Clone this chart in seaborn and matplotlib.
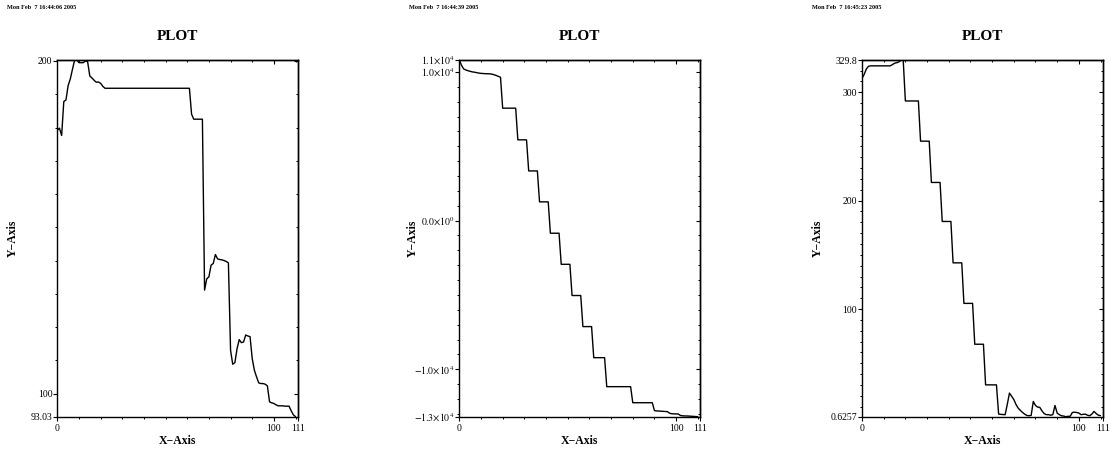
import matplotlib
matplotlib.use("Agg")
import matplotlib.pyplot as plt
import numpy as np
import pandas as pd
import seaborn as sns

# ---------------- data ----------------
x_values = list(range(111))

series_a = [
    179.2, 179.8, 177.6, 187.8, 188.3, 192.6, 194.6, 197.5, 200.3, 200.3,
    199.5, 199.5, 199.5, 200.0, 199.8, 195.5, 194.9, 194.2, 193.6, 193.7,
    193.3, 192.4, 191.8, 191.8, 191.8, 191.8, 191.8, 191.8, 191.8, 191.8,
    191.8, 191.8, 191.8, 191.8, 191.8, 191.8, 191.8, 191.8, 191.8, 191.8,
    191.8, 191.8, 191.8, 191.8, 191.8, 191.8, 191.8, 191.8, 191.8, 191.8,
    191.8, 191.8, 191.8, 191.8, 191.8, 191.8, 191.8, 191.8, 191.8, 191.8,
    191.8, 191.8, 184.0, 182.5, 182.5, 182.5, 182.5, 182.5, 131.1, 134.5,
    135.1, 138.6, 139.1, 141.8, 140.5, 140.3, 140.2, 140.0, 139.7, 139.3,
    113.0, 108.8, 109.3, 113.5, 116.2, 115.3, 115.5, 117.6, 117.3, 117.1,
    110.5, 107.0, 105.0, 103.2, 103.0, 103.0, 102.8, 102.3, 97.5, 97.2,
    97.0, 96.6, 96.3, 96.3, 96.3, 96.2, 96.2, 96.2, 94.8, 93.6,
    93.03,
]

series_b = [
    10800, 10450, 10200, 10130, 10080, 10040, 10000, 9980, 9950, 9920,
    9900, 9890, 9880, 9875, 9870, 9850, 9810, 9760, 9700, 9640,
    7560, 7560, 7560, 7560, 7560, 7560, 7560, 5430, 5430, 5430,
    5430, 5430, 3340, 3340, 3340, 3340, 3340, 1260, 1260, 1260,
    1260, 1260, -850, -850, -850, -850, -850, -2940, -2940, -2940,
    -2940, -2940, -5040, -5040, -5040, -5040, -5040, -7130, -7130, -7130,
    -7130, -7130, -9220, -9220, -9220, -9220, -9220, -9220, -11170, -11170,
    -11170, -11170, -11170, -11170, -11170, -11170, -11170, -11170, -11170, -11170,
    -12250, -12250, -12250, -12250, -12250, -12250, -12250, -12250, -12250, -12250,
    -12780, -12800, -12810, -12820, -12830, -12840, -12850, -12960, -12990, -13000,
    -13005, -13010, -13110, -13130, -13140, -13140, -13150, -13160, -13170, -13180,
    -13190,
]

series_c = [
    312.8, 316.5, 321.5, 324.0, 324.4, 324.4, 324.4, 324.4, 324.4, 324.4,
    324.4, 324.4, 324.4, 324.4, 325.5, 326.8, 327.3, 328.0, 329.6, 329.8,
    292.0, 292.0, 292.0, 292.0, 292.0, 292.0, 292.0, 254.9, 254.9, 254.9,
    254.9, 254.9, 216.8, 216.8, 216.8, 216.8, 216.8, 180.8, 180.8, 180.8,
    180.8, 180.8, 142.6, 142.6, 142.6, 142.6, 142.6, 105.2, 105.2, 105.2,
    105.2, 105.2, 67.5, 67.5, 67.5, 67.5, 67.5, 30.0, 30.0, 30.0,
    30.0, 30.0, 30.0, 3.1, 2.8, 2.6, 2.5, 12.0, 22.4, 19.5,
    16.5, 12.0, 8.6, 6.5, 4.6, 3.0, 1.8, 1.5, 1.8, 14.7,
    11.0, 9.5, 9.2, 6.0, 3.5, 2.5, 2.5, 2.0, 2.5, 11.0,
    4.0, 2.5, 1.5, 1.2, 0.6257, 1.0, 1.0, 4.5, 4.8, 4.5,
    4.0, 2.5, 2.8, 3.0, 2.0, 1.5, 3.0, 5.5, 3.5, 2.0,
    1.6,
]

timestamps = ["Mon Feb  7 16:44:06 2005", "Mon Feb  7 16:44:39 2005",
              "Mon Feb  7 16:45:23 2005"]
plot_title = "PLOT"
x_label = "X\u2212Axis"
y_label = "Y\u2212Axis"

x_limits = (0, 111)
x_tick_values = [0, 100, 111]
x_tick_labels = ["0", "100", "111"]

y_limits_a = (93.03, 200.3)
y_tick_values_a = [93.03, 100, 200]
y_tick_labels_a = ["93.03", "100", "200"]

y_limits_b = (-13190, 10800)
y_tick_values_b = [-13190, -10000, 0, 10000, 10800]
y_tick_labels_b = [r"$-1.3{\times}10^{4}$", r"$-1.0{\times}10^{4}$",
                   r"$0.0{\times}10^{0}$", r"$1.0{\times}10^{4}$",
                   r"$1.1{\times}10^{4}$"]

y_limits_c = (0.6257, 329.8)
y_tick_values_c = [0.6257, 100, 200, 300, 329.8]
y_tick_labels_c = ["0.6257", "100", "200", "300", "329.8"]

# ---------------- style ----------------
sns.set_style("ticks")
plt.rcParams["font.family"] = ["Liberation Serif", "DejaVu Serif"]
plt.rcParams["mathtext.fontset"] = "stix"
plt.rcParams["text.color"] = "black"
plt.rcParams["axes.labelcolor"] = "black"
plt.rcParams["xtick.color"] = "black"
plt.rcParams["ytick.color"] = "black"
plt.rcParams["axes.edgecolor"] = "black"

W, H = 1111, 451
fig = plt.figure(figsize=(W / 100, H / 100), dpi=100)
fig.patch.set_facecolor("white")

ax_bottom_px, ax_height_px = 34.3, 356.7
panel_geo = [(57.3, 240.4), (459.3, 240.7), (862.0, 240.7)]
ylabel_offsets = [-44.3, -46.6, -43.7]

panels = [
    (series_a, y_limits_a, y_tick_values_a, y_tick_labels_a, 10),
    (series_b, y_limits_b, y_tick_values_b, y_tick_labels_b, 1000),
    (series_c, y_limits_c, y_tick_values_c, y_tick_labels_c, 10),
]

for i, (vals, ylim, yt, ytl, minor_step) in enumerate(panels):
    left_px, width_px = panel_geo[i]
    ax = fig.add_axes([left_px / W, ax_bottom_px / H, width_px / W, ax_height_px / H])
    ax.set_facecolor("white")
    df = pd.DataFrame({"x": x_values, "y": vals})
    sns.lineplot(data=df, x="x", y="y", ax=ax, color="black", linewidth=1.0,
                 estimator=None, sort=False)
    ax.set_xlim(*x_limits)
    ax.set_ylim(*ylim)
    ax.set_xlabel("")
    ax.set_ylabel("")

    # ticks
    ax.set_xticks(x_tick_values)
    ax.set_xticklabels(x_tick_labels)
    xminor = [v for v in range(10, 111, 10) if v not in x_tick_values]
    ax.set_xticks(xminor, minor=True)
    ax.set_yticks(yt)
    ax.set_yticklabels(ytl)
    lo = int(np.ceil(ylim[0] / minor_step)) * minor_step
    yminor = [v for v in np.arange(lo, ylim[1], minor_step)]
    ax.set_yticks(yminor, minor=True)
    ax.tick_params(axis="both", which="major", direction="out", length=2.6,
                   width=0.8, color="black", labelsize=7, labelcolor="black")
    ax.tick_params(axis="y", which="major", pad=0.8)
    ax.tick_params(axis="x", which="major", pad=3.0)
    ax.tick_params(axis="both", which="minor", direction="out", length=1.6,
                   width=0.7, color="black")
    ax.tick_params(top=False, right=False, which="both")

    for s in ax.spines.values():
        s.set_visible(True)
        s.set_linewidth(1.0)
        s.set_color("black")

    # mirrored inward ticks on right and top
    secy = ax.secondary_yaxis("right")
    secy.set_yticks([v for v in yt if ylim[0] < v < ylim[1]])
    secy.set_yticks(yminor, minor=True)
    secy.tick_params(which="major", direction="in", length=2.6, width=0.8,
                     color="black", labelright=False, labelleft=False)
    secy.tick_params(which="minor", direction="in", length=1.6, width=0.7,
                     color="black")
    secy.spines["right"].set_linewidth(1.0)
    secy.spines["right"].set_color("black")

    secx = ax.secondary_xaxis("top")
    secx.set_xticks([v for v in x_tick_values if x_limits[0] < v < x_limits[1]])
    secx.set_xticks(xminor, minor=True)
    secx.tick_params(which="major", direction="in", length=2.6, width=0.8,
                     color="black", labeltop=False, labelbottom=False)
    secx.tick_params(which="minor", direction="in", length=1.6, width=0.7,
                     color="black")
    secx.spines["top"].set_linewidth(1.0)
    secx.spines["top"].set_color("black")

    # texts
    ax.text(0.5, 1 + 20 / ax_height_px, plot_title, transform=ax.transAxes,
            ha="center", va="baseline", fontsize=11, fontweight="bold",
            color="black")
    ax.text(0.5, -24 / ax_height_px, x_label, transform=ax.transAxes,
            ha="center", va="center", fontsize=8.5, fontweight="bold",
            color="black")
    ax.text(ylabel_offsets[i] / width_px, 0.5, y_label, transform=ax.transAxes,
            ha="center", va="center", rotation=90, fontsize=8.5,
            fontweight="bold", color="black")
    ax.text(-50 / width_px, 1 + 51.3 / ax_height_px, timestamps[i],
            transform=ax.transAxes, ha="left", va="baseline", fontsize=4.5,
            fontweight="bold", color="black")

fig.savefig("out.png", dpi=100, facecolor="white")
